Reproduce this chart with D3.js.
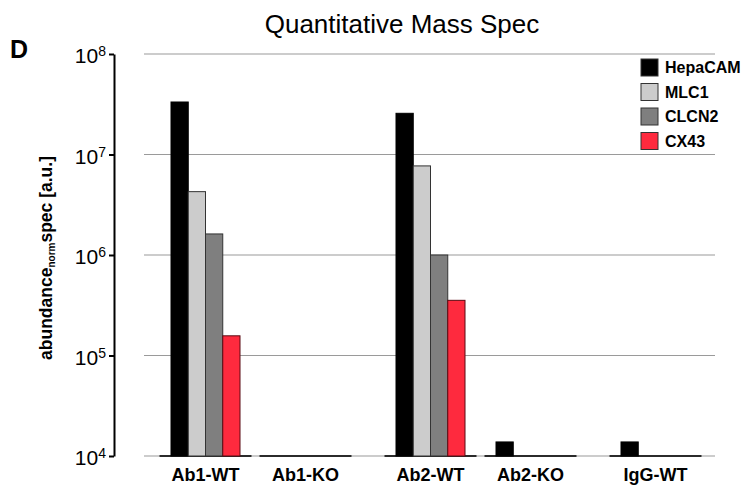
<!DOCTYPE html>
<html>
<head>
<meta charset="utf-8">
<script src="https://cdn.jsdelivr.net/npm/d3@7"></script>
<style>
  body { margin: 0; background: #fff; }
  svg { display: block; font-family: "Liberation Sans", Arial, Helvetica, sans-serif; }
</style>
</head>
<body>
<div id="chart"></div>
<script>
// Data
const categories = ["Ab1-WT", "Ab1-KO", "Ab2-WT", "Ab2-KO", "IgG-WT"];
const series = ["HepaCAM", "MLC1", "CLCN2", "CX43"];
const hepacam = [3.33e7, 0, 2.57e7, 1.38e4, 1.38e4];
const mlc1 = [4.27e6, 0, 7.7e6, 0, 0];
const clcn2 = [1.62e6, 0, 1.0e6, 0, 0];
const cx43 = [1.57e5, 0, 3.54e5, 0, 0];
const yTicks = [1e4, 1e5, 1e6, 1e7, 1e8];

const colors = ["#000000", "#cccccc", "#7f7f7f", "#fe2a3e"];
const strokes = ["#000000", "#333333", "#333333", "#5a0a12"];
const values = [hepacam, mlc1, clcn2, cx43];

const W = 744, H = 487;

const svg = d3.select("#chart").append("svg")
  .attr("width", W)
  .attr("height", H);

// y: log scale, one decade ~100px
const y = d3.scaleLog().domain([1e4, 1e8]).range([456, 54]);

// x: categories come in pairs, with a small extra gap between pairs
const slot = i => i + 0.25 * Math.floor(i / 2);
const x = d3.scaleLinear().domain([-0.615, 5.095]).range([144, 715]);
const inner = d3.scaleBand().domain(series).range([-34.5, 34.5]);

// gridlines
svg.append("g")
  .selectAll("line")
  .data(yTicks)
  .enter()
  .append("line")
  .attr("x1", 144)
  .attr("x2", 715)
  .attr("y1", d => y(d))
  .attr("y2", d => y(d))
  .attr("stroke", "#9a9a9a")
  .attr("stroke-width", 1.2);

// dark base segment under each category
svg.append("g")
  .selectAll("line")
  .data(categories)
  .enter()
  .append("line")
  .attr("x1", (d, i) => x(slot(i)) - 46)
  .attr("x2", (d, i) => x(slot(i)) + 46)
  .attr("y1", y(1e4))
  .attr("y2", y(1e4))
  .attr("stroke", "#2b2b2b")
  .attr("stroke-width", 2);

// bars
const bars = [];
categories.forEach((c, i) => {
  series.forEach((s, j) => {
    const v = values[j][i];
    if (v > 1e4) bars.push({ c, i, s, j, v });
  });
});

svg.append("g")
  .selectAll("rect")
  .data(bars)
  .enter()
  .append("rect")
  .attr("x", d => x(slot(d.i)) + inner(d.s))
  .attr("y", d => y(d.v))
  .attr("width", inner.bandwidth())
  .attr("height", d => y(1e4) - y(d.v))
  .attr("fill", d => colors[d.j])
  .attr("stroke", d => strokes[d.j])
  .attr("stroke-width", 1);

// y axis
const yAxis = svg.append("g")
  .attr("transform", "translate(114,0)")
  .call(d3.axisLeft(y).tickValues(yTicks).tickSize(5).tickSizeOuter(0).tickFormat(""));

yAxis.select(".domain").attr("stroke", "#000").attr("stroke-width", 2);
yAxis.selectAll(".tick line").attr("stroke", "#000").attr("stroke-width", 2);

yAxis.selectAll(".tick")
  .append("text")
  .attr("x", -8)
  .attr("dy", "0.42em")
  .attr("text-anchor", "end")
  .attr("fill", "#000")
  .style("font-size", "21px")
  .each(function (d) {
    const t = d3.select(this);
    t.append("tspan").text("10");
    t.append("tspan")
      .attr("dy", "-0.5em")
      .style("font-size", "14px")
      .text(Math.round(Math.log10(d)));
  });

// x labels
svg.append("g")
  .selectAll("text")
  .data(categories)
  .enter()
  .append("text")
  .attr("x", (d, i) => x(slot(i)))
  .attr("y", 481)
  .attr("text-anchor", "middle")
  .style("font-size", "18px")
  .style("font-weight", "bold")
  .text(d => d);

// y label
const yl = svg.append("text")
  .attr("transform", "translate(52,258) rotate(-90)")
  .attr("text-anchor", "middle")
  .style("font-size", "17.5px")
  .style("font-weight", "bold");
yl.append("tspan").text("abundance");
yl.append("tspan").attr("dy", "0.3em").style("font-size", "10px").text("norm");
yl.append("tspan").attr("dy", "-0.18em").text("spec [a.u.]");

// title
svg.append("text")
  .attr("x", 402)
  .attr("y", 33)
  .attr("text-anchor", "middle")
  .style("font-size", "26px")
  .text("Quantitative Mass Spec");

// panel letter
svg.append("text")
  .attr("x", 10)
  .attr("y", 58)
  .style("font-size", "25px")
  .style("font-weight", "bold")
  .text("D");

// legend
const legend = svg.append("g")
  .attr("transform", "translate(641,59)");

const item = legend.selectAll("g")
  .data(series)
  .enter()
  .append("g")
  .attr("transform", (d, i) => `translate(0,${i * 24.5})`);

item.append("rect")
  .attr("width", 17)
  .attr("height", 17)
  .attr("fill", (d, i) => colors[i])
  .attr("stroke", "#333")
  .attr("stroke-width", 1);

item.append("text")
  .attr("x", 24)
  .attr("y", 8.5)
  .attr("dy", "0.36em")
  .style("font-size", "16px")
  .style("font-weight", "bold")
  .text(d => d);
</script>
</body>
</html>
